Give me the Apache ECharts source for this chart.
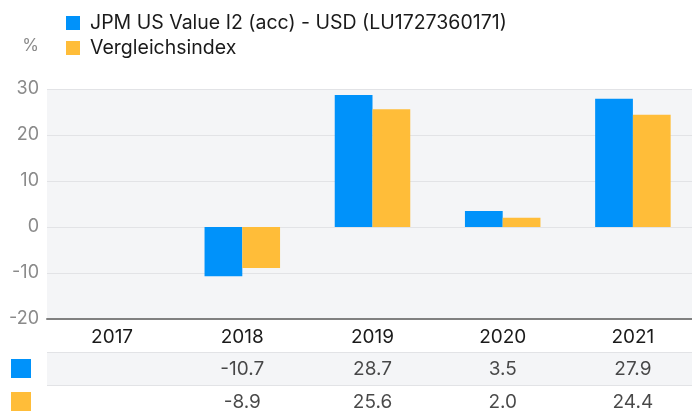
<!DOCTYPE html>
<html>
<head>
<meta charset="utf-8">
<script src="https://cdn.jsdelivr.net/npm/echarts@6/dist/echarts.min.js"></script>
<style>
html,body{margin:0;padding:0;background:#fff;}
#chart{width:692px;height:417px;}
</style>
</head>
<body>
<div id="chart"></div>
<script>
const categories = ['2017', '2018', '2019', '2020', '2021'];
const fundName = 'JPM US Value I2 (acc) - USD (LU1727360171)';
const indexName = 'Vergleichsindex';
const fundValues = [null, -10.7, 28.7, 3.5, 27.9];
const indexValues = [null, -8.9, 25.6, 2.0, 24.4];
const yTicks = { min: -20, max: 30, interval: 10 };

const FONT = 'Inter';
const BLUE = '#0092FA';
const ORANGE = '#FFBD39';

function tableData(values, row) {
  const out = [];
  values.forEach((v, i) => { if (v !== null) out.push([i, row, v]); });
  return out;
}

const chart = echarts.init(document.getElementById('chart'), null, { renderer: 'canvas' });
chart.setOption({
  animation: false,
  textStyle: { fontFamily: FONT },
  legend: {
    orient: 'vertical',
    left: 61,
    top: 8,
    itemWidth: 14,
    itemHeight: 14,
    itemGap: 5,
    icon: 'rect',
    data: [fundName, indexName],
    textStyle: { fontSize: 19.5, color: '#1a1a1a', fontFamily: FONT, padding: [0, 0, 0, 5] }
  },
  grid: [
    { left: 47, width: 651, top: 89, bottom: 98, show: true, backgroundColor: '#F4F5F7', borderWidth: 0, outerBoundsMode: 'none', containLabel: false },
    { left: 47, width: 651, top: 352, height: 66, show: false, outerBoundsMode: 'none', containLabel: false }
  ],
  xAxis: [
    {
      type: 'category', gridIndex: 0, data: categories,
      axisLine: { show: false }, axisTick: { show: false },
      axisLabel: { color: '#1a1a1a', fontSize: 19, margin: 9, fontFamily: FONT }
    },
    {
      type: 'category', gridIndex: 0, data: categories, position: 'bottom',
      axisLine: { show: true, onZero: true, lineStyle: { color: '#808080', width: 2 } },
      axisTick: { show: false }, axisLabel: { show: false }
    },
    {
      type: 'category', gridIndex: 1, data: categories, show: false
    }
  ],
  yAxis: [
    {
      type: 'value', gridIndex: 0, min: yTicks.min, max: yTicks.max, interval: yTicks.interval,
      name: '%', nameLocation: 'end', nameGap: 35,
      nameTextStyle: { color: '#8a8a8a', fontSize: 17, align: 'right', padding: [0, 8, 0, 0], fontFamily: FONT },
      axisLine: { show: false }, axisTick: { show: false },
      axisLabel: { color: '#8a8a8a', fontSize: 18, margin: 8, fontFamily: FONT },
      splitLine: { show: true, lineStyle: { color: '#E2E3E6', width: 1 } }
    },
    {
      type: 'category', gridIndex: 1, data: ['fund', 'index'], inverse: true,
      axisLine: { show: false }, axisTick: { show: false },
      axisLabel: {
        margin: 16,
        formatter: function (v) { return v === 'fund' ? '{a|}' : '{b|}'; },
        rich: {
          a: { width: 20, height: 19, backgroundColor: BLUE },
          b: { width: 20, height: 19, backgroundColor: ORANGE }
        }
      },
      splitLine: { show: true, lineStyle: { color: '#E2E3E6', width: 1 } },
      splitArea: { show: true, areaStyle: { color: ['#F4F5F7', '#FFFFFF'] } }
    }
  ],
  series: [
    {
      name: fundName, type: 'bar', xAxisIndex: 0, yAxisIndex: 0,
      data: fundValues, itemStyle: { color: BLUE },
      barGap: '0%', barCategoryGap: '42%'
    },
    {
      name: indexName, type: 'bar', xAxisIndex: 0, yAxisIndex: 0,
      data: indexValues, itemStyle: { color: ORANGE },
      barGap: '0%', barCategoryGap: '42%'
    },
    {
      type: 'scatter', xAxisIndex: 2, yAxisIndex: 1, symbolSize: 0,
      data: tableData(fundValues, 0).concat(tableData(indexValues, 1)),
      label: {
        show: true, position: 'inside', color: '#1a1a1a', fontSize: 19, fontFamily: FONT,
        offset: [0, 1],
        formatter: function (p) { return p.value[2].toFixed(1); }
      },
      silent: true
    }
  ]
});
</script>
</body>
</html>
